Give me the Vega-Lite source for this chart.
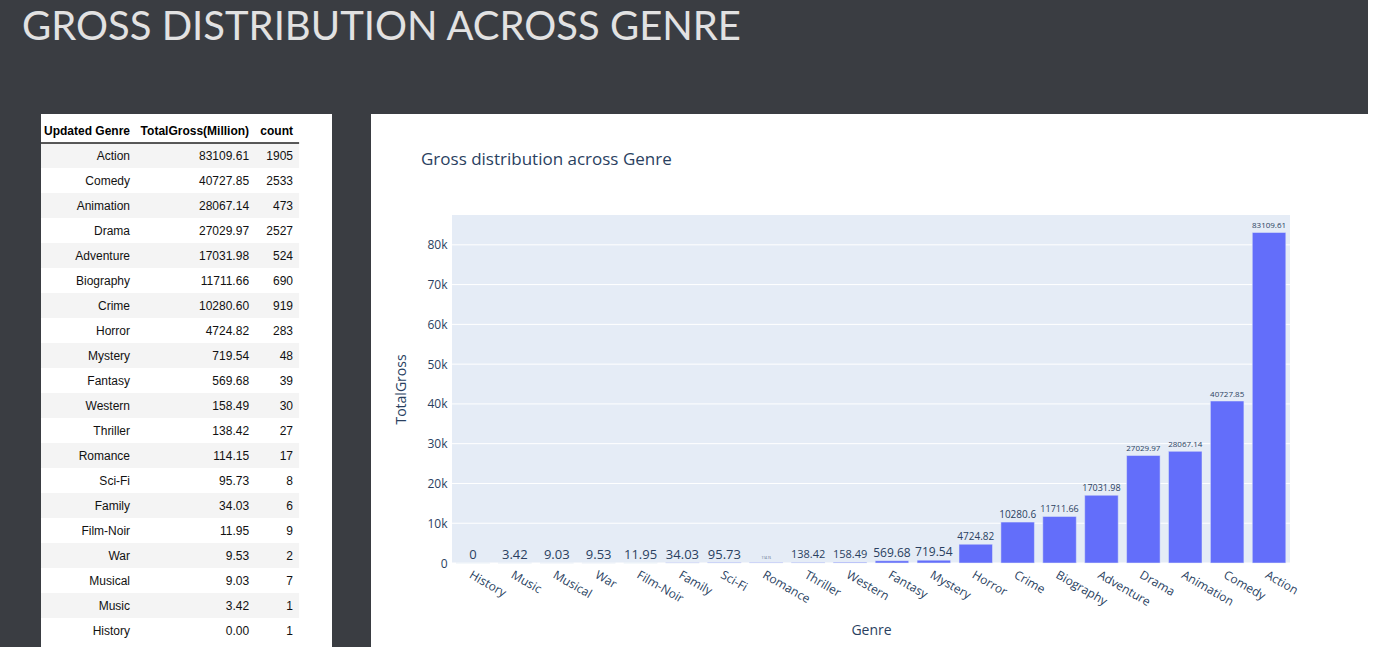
{
  "$schema": "https://vega.github.io/schema/vega-lite/v6.json",
  "background": "#3a3d42",
  "padding": {"left": 22, "top": 8, "right": 0, "bottom": 0},
  "title": {"text": "GROSS DISTRIBUTION ACROSS GENRE", "anchor": "start", "frame": "group", "font": "Lato", "fontSize": 40, "fontWeight": "normal", "color": "#e2e2e2", "dx": -19, "offset": 34, "baseline": "alphabetic"},
  "datasets": {
    "genres": [
      {"Genre": "History", "TotalGross": 0.00, "count": 1},
      {"Genre": "Music", "TotalGross": 3.42, "count": 1},
      {"Genre": "Musical", "TotalGross": 9.03, "count": 7},
      {"Genre": "War", "TotalGross": 9.53, "count": 2},
      {"Genre": "Film-Noir", "TotalGross": 11.95, "count": 9},
      {"Genre": "Family", "TotalGross": 34.03, "count": 6},
      {"Genre": "Sci-Fi", "TotalGross": 95.73, "count": 8},
      {"Genre": "Romance", "TotalGross": 114.15, "count": 17},
      {"Genre": "Thriller", "TotalGross": 138.42, "count": 27},
      {"Genre": "Western", "TotalGross": 158.49, "count": 30},
      {"Genre": "Fantasy", "TotalGross": 569.68, "count": 39},
      {"Genre": "Mystery", "TotalGross": 719.54, "count": 48},
      {"Genre": "Horror", "TotalGross": 4724.82, "count": 283},
      {"Genre": "Crime", "TotalGross": 10280.6, "count": 919},
      {"Genre": "Biography", "TotalGross": 11711.66, "count": 690},
      {"Genre": "Adventure", "TotalGross": 17031.98, "count": 524},
      {"Genre": "Drama", "TotalGross": 27029.97, "count": 2527},
      {"Genre": "Animation", "TotalGross": 28067.14, "count": 473},
      {"Genre": "Comedy", "TotalGross": 40727.85, "count": 2533},
      {"Genre": "Action", "TotalGross": 83109.61, "count": 1905}
    ]
  },
  "spacing": 39,
  "hconcat": [
    {
      "width": 291,
      "height": 533,
      "view": {"fill": "white", "stroke": null},
      "data": {"name": "genres"},
      "layer": [
        {
          "transform": [
            {"window": [{"op": "row_number", "as": "rank"}], "sort": [{"field": "TotalGross", "order": "descending"}]},
            {"filter": "datum.rank % 2 == 1"}
          ],
          "mark": {"type": "rect", "fill": "#f4f4f4"},
          "encoding": {
            "y": {"field": "Genre", "type": "nominal", "axis": null, "scale": {"type": "band", "domain": ["_h", "Action", "Comedy", "Animation", "Drama", "Adventure", "Biography", "Crime", "Horror", "Mystery", "Fantasy", "Western", "Thriller", "Romance", "Sci-Fi", "Family", "Film-Noir", "War", "Musical", "Music", "History"], "paddingInner": 0, "paddingOuter": 0.16}},
            "x": {"datum": 0, "type": "quantitative", "axis": null, "scale": {"domain": [0, 1], "nice": false, "zero": false}},
            "x2": {"datum": 0.887}
          }
        },
        {
          "data": {"values": [{}]},
          "mark": {"type": "rule", "color": "#222222", "strokeWidth": 1.5},
          "encoding": {
            "y": {"datum": "Action", "type": "nominal", "bandPosition": 0, "axis": null},
            "x": {"datum": 0, "type": "quantitative", "axis": null},
            "x2": {"datum": 0.887}
          }
        },
        {
          "data": {"values": [{}]},
          "mark": {"type": "text", "align": "right", "baseline": "middle", "font": "Liberation Sans", "fontSize": 12, "fontWeight": "bold", "color": "#000000"},
          "encoding": {
            "y": {"datum": "_h", "type": "nominal", "axis": null},
            "x": {"datum": 0.306, "type": "quantitative", "axis": null},
            "text": {"value": "Updated Genre"}
          }
        },
        {
          "data": {"values": [{}]},
          "mark": {"type": "text", "align": "right", "baseline": "middle", "font": "Liberation Sans", "fontSize": 12, "fontWeight": "bold", "color": "#000000"},
          "encoding": {
            "y": {"datum": "_h", "type": "nominal", "axis": null},
            "x": {"datum": 0.715, "type": "quantitative", "axis": null},
            "text": {"value": "TotalGross(Million)"}
          }
        },
        {
          "data": {"values": [{}]},
          "mark": {"type": "text", "align": "right", "baseline": "middle", "font": "Liberation Sans", "fontSize": 12, "fontWeight": "bold", "color": "#000000"},
          "encoding": {
            "y": {"datum": "_h", "type": "nominal", "axis": null},
            "x": {"datum": 0.866, "type": "quantitative", "axis": null},
            "text": {"value": "count"}
          }
        },
        {
          "mark": {"type": "text", "align": "right", "baseline": "middle", "font": "Liberation Sans", "fontSize": 12, "color": "#111111"},
          "encoding": {
            "y": {"field": "Genre", "type": "nominal", "axis": null},
            "x": {"datum": 0.306, "type": "quantitative", "axis": null},
            "text": {"field": "Genre", "type": "nominal"}
          }
        },
        {
          "mark": {"type": "text", "align": "right", "baseline": "middle", "font": "Liberation Sans", "fontSize": 12, "color": "#111111"},
          "encoding": {
            "y": {"field": "Genre", "type": "nominal", "axis": null},
            "x": {"datum": 0.715, "type": "quantitative", "axis": null},
            "text": {"field": "TotalGross", "type": "quantitative", "format": ".2f"}
          }
        },
        {
          "mark": {"type": "text", "align": "right", "baseline": "middle", "font": "Liberation Sans", "fontSize": 12, "color": "#111111"},
          "encoding": {
            "y": {"field": "Genre", "type": "nominal", "axis": null},
            "x": {"datum": 0.866, "type": "quantitative", "axis": null},
            "text": {"field": "count", "type": "nominal"}
          }
        }
      ]
    },
    {
      "width": 997,
      "height": 533,
      "view": {"fill": "white", "stroke": null},
      "title": {"text": "Gross distribution across Genre", "anchor": "start", "frame": "group", "font": "Open Sans", "fontSize": 17, "fontWeight": "normal", "color": "#2a3f5f", "baseline": "alphabetic", "offset": 0, "dx": 50, "dy": 68},
      "resolve": {"scale": {"x": "independent"}},
      "layer": [
        {
          "data": {"values": [{}]},
          "mark": {"type": "rect", "fill": "#e5ecf6"},
          "encoding": {
            "x": {"datum": 0, "type": "quantitative", "axis": null, "scale": {"domain": [0, 1], "range": [81, 919], "nice": false, "zero": false}},
            "x2": {"datum": 1},
            "y": {"datum": 0, "type": "quantitative", "title": "TotalGross", "scale": {"domain": [0, 87500], "range": [449, 101], "nice": false, "zero": false}},
            "y2": {"datum": 87500}
          }
        },
        {
          "data": {"values": [{"tick": 0}, {"tick": 10000}, {"tick": 20000}, {"tick": 30000}, {"tick": 40000}, {"tick": 50000}, {"tick": 60000}, {"tick": 70000}, {"tick": 80000}]},
          "mark": {"type": "rule", "color": "white", "strokeWidth": 1},
          "encoding": {
            "x": {"datum": 0, "type": "quantitative", "axis": null, "scale": {"domain": [0, 1], "range": [81, 919], "nice": false, "zero": false}},
            "x2": {"datum": 1},
            "y": {"field": "tick", "type": "quantitative", "title": "TotalGross"}
          }
        },
        {
          "data": {"name": "genres"},
          "mark": {"type": "bar", "color": "#636efa", "stroke": "#e5ecf6", "strokeWidth": 0.5, "width": {"band": 0.8}},
          "encoding": {
            "x": {"field": "Genre", "type": "nominal", "title": "Genre",
                  "scale": {"type": "band", "domain": ["History", "Music", "Musical", "War", "Film-Noir", "Family", "Sci-Fi", "Romance", "Thriller", "Western", "Fantasy", "Mystery", "Horror", "Crime", "Biography", "Adventure", "Drama", "Animation", "Comedy", "Action"], "range": [81, 919], "paddingInner": 0, "paddingOuter": 0},
                  "axis": {"labelAngle": 30, "labelAlign": "left", "labelBaseline": "top", "offset": -84, "labelPadding": 6, "titlePadding": 16, "domain": false, "ticks": false, "grid": false}},
            "y": {"field": "TotalGross", "type": "quantitative", "title": "TotalGross",
                  "axis": {"values": [0, 10000, 20000, 30000, 40000, 50000, 60000, 70000, 80000], "labelExpr": "datum.value === 0 ? '0' : format(datum.value / 1000, 'd') + 'k'", "offset": -81, "labelPadding": 5, "titlePadding": 18, "grid": false, "domain": false, "ticks": false}}
          }
        },
        {
          "data": {"name": "genres"},
          "mark": {"type": "text", "baseline": "alphabetic", "dy": -4, "font": "Open Sans", "color": "#2a3f5f"},
          "encoding": {
            "x": {"field": "Genre", "type": "nominal", "axis": null,
                  "scale": {"type": "band", "domain": ["History", "Music", "Musical", "War", "Film-Noir", "Family", "Sci-Fi", "Romance", "Thriller", "Western", "Fantasy", "Mystery", "Horror", "Crime", "Biography", "Adventure", "Drama", "Animation", "Comedy", "Action"], "range": [81, 919], "paddingInner": 0, "paddingOuter": 0}},
            "y": {"field": "TotalGross", "type": "quantitative", "title": "TotalGross"},
            "text": {"field": "TotalGross", "type": "nominal"},
            "size": {
              "condition": [
                {"test": "datum.Genre === 'Romance'", "value": 3},
                {"test": "datum.TotalGross < 100", "value": 13},
                {"test": "datum.TotalGross < 500", "value": 11},
                {"test": "datum.TotalGross < 1000", "value": 12},
                {"test": "datum.TotalGross < 11000", "value": 10},
                {"test": "datum.TotalGross < 20000", "value": 9}
              ],
              "value": 8
            }
          }
        }
      ]
    }
  ],
  "config": {
    "view": {"stroke": null},
    "axis": {"labelFont": "Open Sans", "titleFont": "Open Sans", "labelColor": "#2a3f5f", "titleColor": "#2a3f5f", "titleFontWeight": "normal", "labelFontSize": 12, "titleFontSize": 14, "tickSize": 0}
  }
}
